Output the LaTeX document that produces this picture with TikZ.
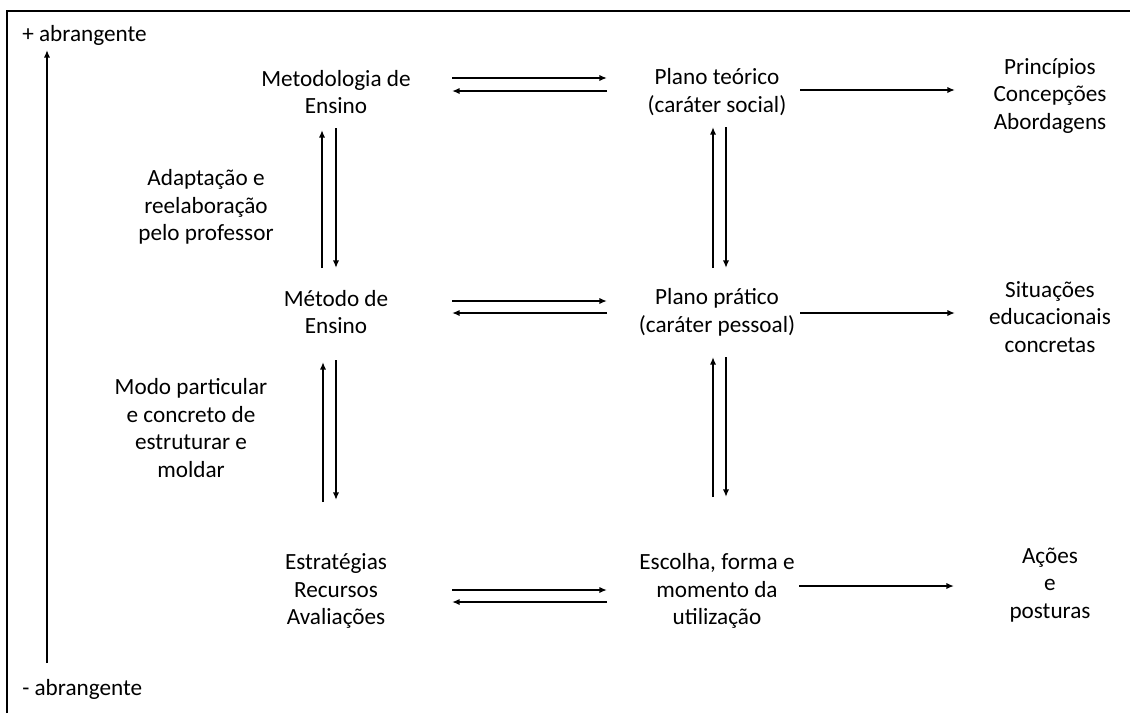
\documentclass[tikz,border=0pt]{standalone}
\usepackage{fontspec}
\setmainfont{Carlito}
\usetikzlibrary{arrows.meta}

\begin{document}
\begin{tikzpicture}[x=0.025cm, y=-0.025cm,
  lbl/.style={align=center, inner sep=0pt, font=\fontsize{16.5}{19.7}\selectfont},
  arr/.style={-{Latex[length=5.5pt,width=4.5pt]}, line width=1.25pt}]

  \useasboundingbox (0,0) rectangle (1130,713);
  \draw[line width=1.5pt] (7,713) -- (7,11) -- (1130,11);

  % axis
  \node[lbl, anchor=base west] (hi) at (22,41) {+ abrangente};
  \node[lbl, anchor=base west] (lo) at (22,695) {- abrangente};
  \draw[arr] ([shift={(25,-32)}]lo.base west) -- ([shift={(25,9)}]hi.base west);

  % left column
  \node[lbl] (met) at (336,92) {Metodologia de\\Ensino};
  \node[lbl] (mdo) at (336,312) {Método de\\Ensino};
  \node[lbl] (est) at (336,591) {Estratégias\\Recursos\\Avaliações};

  % middle column
  \node[lbl] (pt) at (717,92) {Plano teórico\\(caráter social)};
  \node[lbl] (pp) at (717,312) {Plano prático\\(caráter pessoal)};
  \node[lbl] (esc) at (717,591) {Escolha, forma e\\momento da\\utilização};

  % right column
  \node[lbl] (pri) at (1050,96) {Princípios\\Concepções\\Abordagens};
  \node[lbl] (sit) at (1050,317) {Situações\\educacionais\\concretas};
  \node[lbl] (aco) at (1050,585) {Ações\\e\\posturas};

  % side notes
  \node[lbl] (ada) at (206,207) {Adaptação e\\reelaboração\\pelo professor};
  \node[lbl] (mod) at (191,428) {Modo particular\\e concreto de\\estruturar e\\moldar};

  % horizontal pairs
  \draw[arr] ([shift={(116,-14)}]met.center) -- ([shift={(-110,-14)}]pt.center);
  \draw[arr] ([shift={(-110,-1)}]pt.center) -- ([shift={(116,-1)}]met.center);
  \draw[arr] ([shift={(116,-11)}]mdo.center) -- ([shift={(-110,-11)}]pp.center);
  \draw[arr] ([shift={(-110,1)}]pp.center) -- ([shift={(116,1)}]mdo.center);
  \draw[arr] ([shift={(116,-1)}]est.center) -- ([shift={(-110,-1)}]esc.center);
  \draw[arr] ([shift={(-110,11)}]esc.center) -- ([shift={(116,11)}]est.center);

  % to the right
  \draw[arr] ([shift={(83,-2)}]pt.center) -- ([shift={(-95,-6)}]pri.center);
  \draw[arr] ([shift={(83,1)}]pp.center) -- ([shift={(-95,-4)}]sit.center);
  \draw[arr] ([shift={(82,-5)}]esc.center) -- ([shift={(-96,1)}]aco.center);

  % vertical pairs
  \draw[arr] ([shift={(-14,-44)}]mdo.center) -- ([shift={(-14,38)}]met.center);
  \draw[arr] ([shift={(0,36)}]met.center) -- ([shift={(0,-44)}]mdo.center);
  \draw[arr] ([shift={(-13,-89)}]est.center) -- ([shift={(-13,50)}]mdo.center);
  \draw[arr] ([shift={(0,48)}]mdo.center) -- ([shift={(0,-91)}]est.center);
  \draw[arr] ([shift={(-4,-44)}]pp.center) -- ([shift={(-4,35)}]pt.center);
  \draw[arr] ([shift={(9,35)}]pt.center) -- ([shift={(9,-44)}]pp.center);
  \draw[arr] ([shift={(-4,-94)}]esc.center) -- ([shift={(-4,45)}]pp.center);
  \draw[arr] ([shift={(9,45)}]pp.center) -- ([shift={(9,-94)}]esc.center);
\end{tikzpicture}
\end{document}
